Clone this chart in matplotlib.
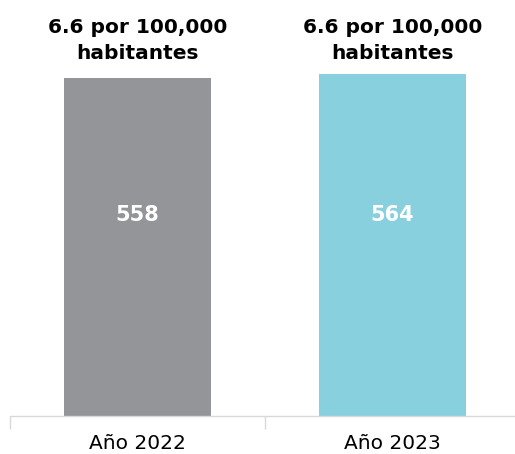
import matplotlib.pyplot as plt

# datos
categorias = ['Año 2022', 'Año 2023']
valores = [558, 564]
tasas = ['6.6 por 100,000\nhabitantes', '6.6 por 100,000\nhabitantes']
colores = ['#939598', '#89D0DF']

fig = plt.figure(figsize=(5.15, 4.54), dpi=100)
ax = fig.add_axes([10 / 515, 38 / 454, 510 / 515, 416 / 454])

x = range(len(categorias))
barras = ax.bar(x, valores, width=0.576, color=colores)

ax.set_xlim(-0.5, 1.5)
ax.set_ylim(0, 686.8)

# etiquetas dentro de las barras y tasas encima
for b, v, t in zip(barras, valores, tasas):
    cx = b.get_x() + b.get_width() / 2
    ax.text(cx, 0.483, str(v), transform=ax.get_xaxis_transform(),
            ha='center', va='center', color='white',
            fontsize=15, fontweight='bold')
    ax.text(cx, 0.903, t, transform=ax.get_xaxis_transform(),
            ha='center', va='center', fontsize=14.5, fontweight='bold',
            linespacing=1.5)

for s in ['top', 'right', 'left']:
    ax.spines[s].set_visible(False)
ax.spines['bottom'].set_color('#D9D9D9')
ax.spines['bottom'].set_linewidth(1)

ax.set_yticks([])
ax.set_xticks(list(x))
ax.set_xticklabels(categorias, fontsize=14.5)
ax.tick_params(axis='x', which='major', length=0, pad=13)
ax.set_xticks([-0.5, 0.5, 1.5], minor=True)
ax.tick_params(axis='x', which='minor', length=9, color='#D9D9D9', width=1)

fig.savefig('out.png', dpi=100)
